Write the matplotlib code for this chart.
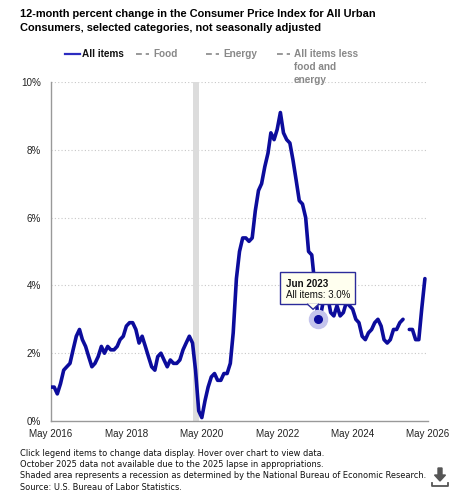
import matplotlib.pyplot as plt
import matplotlib.dates as mdates
from matplotlib.lines import Line2D
from matplotlib.patches import FancyArrow, Rectangle, Polygon
from matplotlib.transforms import IdentityTransform
import numpy as np
import pandas as pd

# 12-month % change, CPI-U all items, May 2016 .. Apr 2026 (Oct 2025 missing)
all_items = [
    1.0, 1.0, 0.8, 1.1, 1.5, 1.6, 1.7, 2.1,
    2.5, 2.7, 2.4, 2.2, 1.9, 1.6, 1.7, 1.9, 2.2, 2.0, 2.2, 2.1,
    2.1, 2.2, 2.4, 2.5, 2.8, 2.9, 2.9, 2.7, 2.3, 2.5, 2.2, 1.9,
    1.6, 1.5, 1.9, 2.0, 1.8, 1.6, 1.8, 1.7, 1.7, 1.8, 2.1, 2.3,
    2.5, 2.3, 1.5, 0.3, 0.1, 0.6, 1.0, 1.3, 1.4, 1.2, 1.2, 1.4,
    1.4, 1.7, 2.6, 4.2, 5.0, 5.4, 5.4, 5.3, 5.4, 6.2, 6.8, 7.0,
    7.5, 7.9, 8.5, 8.3, 8.6, 9.1, 8.5, 8.3, 8.2, 7.7, 7.1, 6.5,
    6.4, 6.0, 5.0, 4.9, 4.0, 3.0, 3.2, 3.7, 3.7, 3.2, 3.1, 3.4,
    3.1, 3.2, 3.5, 3.4, 3.3, 3.0, 2.9, 2.5, 2.4, 2.6, 2.7, 2.9,
    3.0, 2.8, 2.4, 2.3, 2.4, 2.7, 2.7, 2.9, 3.0, np.nan, 2.7, 2.7,
    2.4, 2.4, 3.3, 4.2,
]
months = pd.date_range("2016-05-01", periods=len(all_items), freq="MS")

legend_labels = ["All items", "Food", "Energy", "All items less\nfood and\nenergy"]
x_ticks = pd.to_datetime(["2016-05-01", "2018-05-01", "2020-05-01",
                          "2022-05-01", "2024-05-01", "2026-05-01"])
x_tick_labels = ["May 2016", "May 2018", "May 2020", "May 2022", "May 2024", "May 2026"]
y_ticks = [0, 2, 4, 6, 8, 10]
recession = (pd.Timestamp("2020-02-01"), pd.Timestamp("2020-04-01"))
tip_month = pd.Timestamp("2023-06-01")
tip_value = 3.0

notes = [
    "Click legend items to change data display. Hover over chart to view data.",
    "October 2025 data not available due to the 2025 lapse in appropriations.",
    "Shaded area represents a recession as determined by the National Bureau of Economic Research.",
    "Source: U.S. Bureau of Labor Statistics.",
]

blue = "#0c0c9c"
W, H = 461, 500

fig = plt.figure(figsize=(W / 100, H / 100), dpi=100)
ax = fig.add_axes([51 / W, 1 - 421 / H, 377 / W, 339 / H])

ax.axvspan(recession[0], recession[1], color="#dcdcdc", lw=0, zorder=1)
for y in y_ticks[1:]:
    ax.axhline(y, color="#c8c8c8", lw=0.8, ls=(0, (1, 2)), zorder=0)

ax.plot(months, all_items, color=blue, lw=2.6, solid_joinstyle="round",
        solid_capstyle="round", zorder=3)

# hover marker
ax.plot([tip_month], [tip_value], "o", ms=13, color="#c4c4ec", zorder=4)
ax.plot([tip_month], [tip_value], "o", ms=5.5, color=blue, zorder=5)

ax.set_xlim(pd.Timestamp("2016-05-01"), pd.Timestamp("2026-05-01"))
ax.set_ylim(0, 10)
ax.set_xticks(x_ticks)
ax.set_xticklabels(x_tick_labels)
ax.set_yticks(y_ticks)
ax.set_yticklabels([f"{v}%" for v in y_ticks])
ax.tick_params(length=0, labelsize=7.1, colors="#222", pad=7)
ax.tick_params(axis="x", pad=6)
for lab in ax.get_xticklabels() + ax.get_yticklabels():
    lab.set_family("Liberation Sans")
for s in ["top", "right"]:
    ax.spines[s].set_visible(False)
for s in ["left", "bottom"]:
    ax.spines[s].set_color("#999999")
    ax.spines[s].set_linewidth(1)

# tooltip box, in pixels relative to the hovered point
px, py = ax.transData.transform((mdates.date2num(tip_month), tip_value))
ident = IdentityTransform()
bx0, by0, bw, bh = px - 38, py + 15, 75, 32
fig.add_artist(Rectangle((bx0, by0), bw, bh, fc="#ffffef", ec="#2b2b9a", lw=1,
                         transform=ident, zorder=6))
fig.add_artist(Polygon([(px - 11, by0 + 0.5), (px - 5, by0 - 5), (px + 1, by0 + 0.5)],
                       closed=False, fc="#ffffef", ec="#2b2b9a", lw=1,
                       transform=ident, zorder=7))
fig.text(bx0 + 6, by0 + bh - 12, "Jun 2023", transform=ident, ha="left", va="center",
         fontsize=7.0, weight="bold", color="#111", family="Liberation Sans", zorder=8)
fig.text(bx0 + 6, by0 + 9, "All items: 3.0%", transform=ident, ha="left", va="center",
         fontsize=7.0, color="#111", family="Liberation Sans", zorder=8)

# title
fig.text(20 / W, 1 - 9 / H,
         "12-month percent change in the Consumer Price Index for All Urban\n"
         "Consumers, selected categories, not seasonally adjusted",
         ha="left", va="top", fontsize=7.9, weight="bold", family="Liberation Sans",
         linespacing=1.45)

# legend
leg_x = [65, 136, 206, 277]
leg_y = 1 - 54 / H
for i, lab in enumerate(legend_labels):
    x0 = leg_x[i] / W
    if i == 0:
        fig.add_artist(Line2D([x0, x0 + 15 / W], [leg_y, leg_y], color="#2c2cc0",
                              lw=1.6, transform=fig.transFigure))
        col = "#111"
    else:
        fig.add_artist(Line2D([x0, x0 + 13 / W], [leg_y, leg_y], color="#999",
                              lw=1.4, ls=(0, (3, 2)), transform=fig.transFigure))
        col = "#888"
    fig.text(x0 + 17 / W, leg_y, lab, ha="left", va="top" if "\n" in lab else "center",
             fontsize=7.2, weight="bold", color=col, family="Liberation Sans",
             linespacing=1.35)
# shift multiline legend label so its first line lines up
fig.texts[-1].set_y(leg_y + 5 / H)

# notes
for i, line in enumerate(notes):
    fig.text(20 / W, 1 - (453 + 11.4 * i) / H, line, ha="left", va="center",
             fontsize=5.92, color="#111", family="DejaVu Sans")

# download icon
t = fig.dpi_scale_trans
fig.add_artist(FancyArrow(4.40, (H - 468) / 100, 0, -0.07, width=0.04,
                          head_width=0.11, head_length=0.06, length_includes_head=False,
                          color="#555", transform=t))
fig.add_artist(Line2D([4.32, 4.32, 4.48, 4.48],
                      [(H - 483) / 100, (H - 486) / 100, (H - 486) / 100, (H - 483) / 100],
                      color="#555", lw=1.3, transform=t))

fig.savefig("out.png", dpi=100)
